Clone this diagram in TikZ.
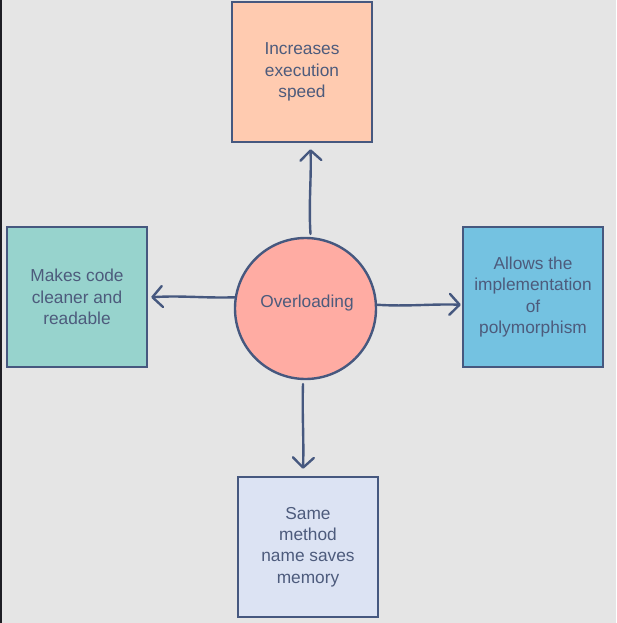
\documentclass[tikz,border=0pt]{standalone}
\usepackage{fontspec}
\setmainfont{Liberation Sans}
\usetikzlibrary{arrows.meta,calc}
\definecolor{bg}{HTML}{E5E5E5}
\definecolor{edge}{HTML}{46587F}
\definecolor{txt}{HTML}{4D5B7C}
\definecolor{peach}{HTML}{FFCBB0}
\definecolor{teal}{HTML}{97D3CD}
\definecolor{skyb}{HTML}{74C2E1}
\definecolor{lav}{HTML}{DCE3F3}
\definecolor{salmon}{HTML}{FFACA3}
\definecolor{frame}{HTML}{1E1E24}
\tikzset{
  box/.style={draw=edge, line width=2.4pt, minimum width=140pt, minimum height=140pt,
    inner sep=0pt, align=center, text=txt,
    font=\fontsize{17.3pt}{21.3pt}\selectfont},
  hub/.style={circle, draw=edge, line width=2.4pt, minimum size=141pt, inner sep=0pt, fill=salmon},
  hubtext/.style={text=txt, font=\fontsize{17.3pt}{21.3pt}\selectfont},
  conn/.style={draw=edge, line width=2.4pt, line cap=round,
    -{Straight Barb[length=10pt,width=21pt,line cap=round,line join=round]}},
}
\begin{document}
\begin{tikzpicture}[x=1pt,y=-1pt]
\fill[bg] (0,0) rectangle (616,623);
\useasboundingbox (0,0) rectangle (616,623);
\fill[frame] (0,0) rectangle (2,623);

\node[box, fill=peach] (top) at (302,72) {Increases\\execution\\speed};
\node[box, fill=teal] (left) at (77,297) {Makes code\\cleaner and\\readable};
\node[box, fill=skyb] (right) at (533,297) {Allows the\\implementation\\of\\polymorphism};
\node[box, fill=lav] (bottom) at (308,547) {Same\\method\\name saves\\memory};

\node[hub] (c) at (305.5,308.5) {};
\node[hubtext] (ct) at (307,303.5) {Overloading};

\coordinate (ut) at ($(c.86 |- top.south)+(0,6)$);
\coordinate (lt) at ($(c.171.5 -| left.east)+(3,0)$);
\coordinate (rt) at ($(c.3 -| right.west)+(-1,0)$);
\coordinate (dt) at ($(c.268 |- bottom.north)+(0,-7)$);

\draw[conn] ($(c.86)+(0,-3)$) .. controls +(-2,-30) and +(1,30) .. (ut);
\draw[conn] (c.171.5) .. controls +(-30,1) and +(30,-2) .. (lt);
\draw[conn] (c.3) .. controls +(30,2) and +(-30,-1) .. (rt);
\draw[conn] ($(c.268)+(0,4)$) .. controls +(-1,30) and +(1,-30) .. (dt);
\end{tikzpicture}
\end{document}
